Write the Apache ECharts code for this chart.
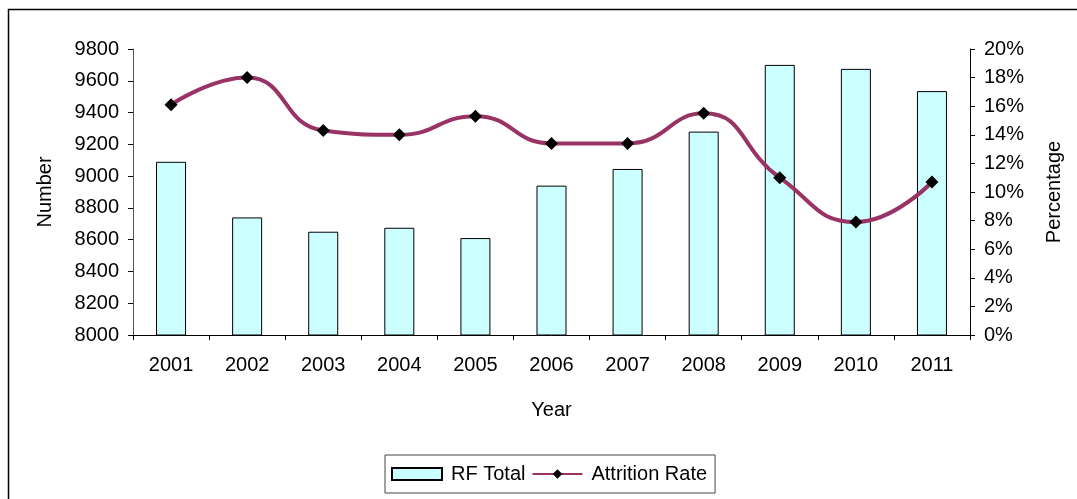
<!DOCTYPE html>
<html>
<head>
<meta charset="utf-8">
<script src="https://cdn.jsdelivr.net/npm/echarts@6/dist/echarts.min.js"></script>
<style>
  html,body{margin:0;padding:0;background:#fff;}
  #chart{width:1077px;height:499px;}
</style>
</head>
<body>
<div id="chart"></div>
<script>
const years = ['2001','2002','2003','2004','2005','2006','2007','2008','2009','2010','2011'];
const rfTotal = [9090, 8740, 8650, 8675, 8610, 8940, 9045, 9280, 9700, 9675, 9535];
const attritionRate = [16.1, 18.0, 14.3, 14.0, 15.3, 13.4, 13.4, 15.5, 11.0, 7.9, 10.7];

const font = '"Liberation Sans", Arial, sans-serif';
const chart = echarts.init(document.getElementById('chart'), null, {renderer:'canvas'});

chart.setOption({
    backgroundColor:'#fff',
    animation:false,
    textStyle:{fontFamily:font, color:'#000'},
    graphic:[{
        type:'rect',
        shape:{x:8.5, y:9.5, width:1200, height:600},
        style:{fill:'none', stroke:'#000', lineWidth:1.5},
        silent:true
    }],
    grid:{
        left:133,
        right:107,
        top:49,
        bottom:164
    },
    legend:{
        left:385,
        top:455,
        padding:[9,8,9,6],
        itemGap:6,
        itemWidth:50,
        itemHeight:12,
        borderColor:'#444',
        borderWidth:1,
        textStyle:{fontSize:20, fontFamily:font, color:'#000', padding:[0,0,0,4]},
        data:[{name:'RF Total', icon:'rect'}, {name:'Attrition Rate'}]
    },
    xAxis:{
        type:'category',
        data:years,
        name:'Year',
        nameLocation:'middle',
        nameGap:65,
        nameTextStyle:{fontSize:20, fontFamily:font, color:'#000'},
        axisLine:{lineStyle:{color:'#000', width:1}},
        axisTick:{show:true, length:5, lineStyle:{color:'#000'}},
        axisLabel:{fontSize:20, color:'#000', margin:20, fontFamily:font}
    },
    yAxis:[
        {
            type:'value',
            min:8000,
            max:9800,
            interval:200,
            name:'Number',
            nameLocation:'middle',
            nameGap:78,
            nameTextStyle:{fontSize:20, fontFamily:font, color:'#000'},
            splitLine:{show:false},
            axisLine:{show:true, lineStyle:{color:'#555', width:1}},
            axisTick:{show:true, length:5, lineStyle:{color:'#000'}},
            axisLabel:{fontSize:20, color:'#000', margin:14, fontFamily:font, formatter:v => String(v)}
        },
        {
            type:'value',
            min:0,
            max:20,
            interval:2,
            name:'Percentage',
            nameLocation:'middle',
            nameGap:74,
            nameTextStyle:{fontSize:20, fontFamily:font, color:'#000'},
            splitLine:{show:false},
            axisLine:{show:true, lineStyle:{color:'#000', width:1}},
            axisTick:{show:true, length:5, lineStyle:{color:'#000'}},
            axisLabel:{fontSize:20, color:'#000', margin:14, fontFamily:font, formatter:'{value}%'}
        }
    ],
    series:[
        {
            name:'RF Total',
            type:'bar',
            yAxisIndex:0,
            barWidth:30,
            itemStyle:{color:'#CCFFFF', borderColor:'#000', borderWidth:1},
            data:rfTotal
        },
        {
            name:'Attrition Rate',
            type:'line',
            yAxisIndex:1,
            smooth:0.5,
            symbol:'diamond',
            symbolSize:13,
            lineStyle:{color:'#993366', width:4},
            itemStyle:{color:'#000'},
            data:attritionRate
        }
    ]
});
</script>
</body>
</html>
